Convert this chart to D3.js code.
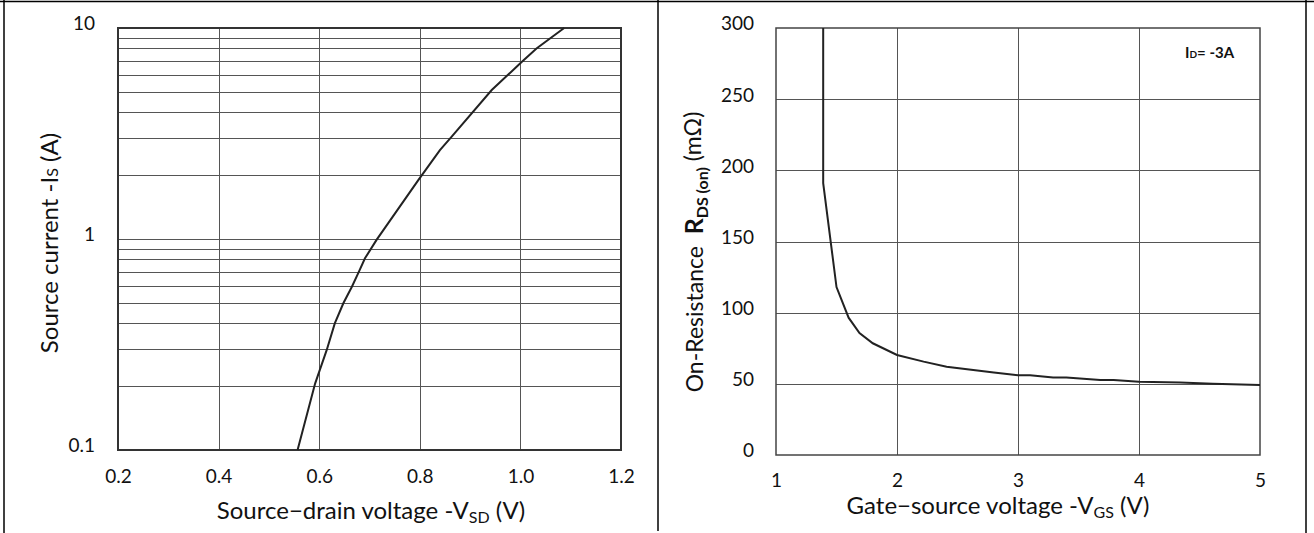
<!DOCTYPE html>
<html>
<head>
<meta charset="utf-8">
<script src="https://cdn.jsdelivr.net/npm/d3@7/dist/d3.min.js"></script>
<style>
  body { margin: 0; background: #fff; }
  svg { display: block; font-family: Lato, "Open Sans", sans-serif; }
  .tick text { font-family: Lato, "Open Sans", sans-serif; font-size: 19px; fill: #111; }
</style>
</head>
<body>
<svg width="1314" height="533"></svg>
<script>
// left chart: source current vs source-drain voltage
var vsd  = [0.557, 0.592, 0.615, 0.631, 0.648, 0.665, 0.679, 0.691, 0.714, 0.797, 0.840, 0.863, 0.943, 1.003, 1.032, 1.087];
var isrc = [0.1,   0.207, 0.298, 0.398, 0.496, 0.594, 0.70,  0.81,  0.99,  1.9,   2.64,  3.05,  5.08,  6.92,  8.0,   10];
var leftXTicks = [0.2, 0.4, 0.6, 0.8, 1.0, 1.2];
var leftYTicks = [0.1, 1, 10];

// right chart: on-resistance vs gate-source voltage
var vgs = [1.39, 1.39, 1.50, 1.60, 1.69, 1.80, 2.0,  2.22, 2.41, 2.80, 3.0, 3.10, 3.29, 3.40, 3.68, 3.79, 4.0,  4.34, 4.61, 5.0];
var rds = [300,  191,  118,  96.5, 85.6, 78.5, 70.3, 65.6, 62,   57.9, 56,  56,   54.4, 54.4, 52.7, 52.7, 51.5, 50.9, 50,   49.2];
var rightXTicks = [1, 2, 3, 4, 5];
var rightYTicks = [0, 50, 100, 150, 200, 250, 300];

var svg = d3.select("svg");

// table frame
svg.append("line").attr("x1", 0).attr("x2", 1314).attr("y1", 1.5).attr("y2", 1.5).attr("stroke", "#000").attr("stroke-width", 1.5);
svg.append("line").attr("x1", 4).attr("x2", 4).attr("y1", 0).attr("y2", 533).attr("stroke", "#000").attr("stroke-width", 1.5);
svg.append("line").attr("x1", 658).attr("x2", 658).attr("y1", 0).attr("y2", 531).attr("stroke", "#000").attr("stroke-width", 1.5);
svg.append("line").attr("x1", 1306).attr("x2", 1306).attr("y1", 0).attr("y2", 533).attr("stroke", "#000").attr("stroke-width", 1.5);

////////////////////// left chart
var x1 = d3.scaleLinear().domain([0.2, 1.2]).range([118, 621]);
var y1 = d3.scaleLog().domain([0.1, 10]).range([450, 28]);

// minor log gridlines 0.2..0.9, 1..9
var left = svg.append("g");
left.append("g").selectAll("line")
  .data(y1.ticks().filter(function(d) { return d > 0.1 && d < 10; }))
  .enter().append("line")
  .attr("x1", x1(0.2)).attr("x2", x1(1.2))
  .attr("y1", function(d) { return Math.round(y1(d)) + 0.5; }).attr("y2", function(d) { return Math.round(y1(d)) + 0.5; })
  .attr("stroke", "#555").attr("stroke-width", 1);

left.append("g").selectAll("line")
  .data(leftXTicks.slice(1, -1))
  .enter().append("line")
  .attr("x1", function(d) { return Math.round(x1(d)) + 0.5; }).attr("x2", function(d) { return Math.round(x1(d)) + 0.5; })
  .attr("y1", y1(10)).attr("y2", y1(0.1))
  .attr("stroke", "#555").attr("stroke-width", 1);

left.append("rect")
  .attr("x", x1(0.2)).attr("y", y1(10))
  .attr("width", x1(1.2) - x1(0.2)).attr("height", y1(0.1) - y1(10))
  .attr("fill", "none").attr("stroke", "#333").attr("stroke-width", 2);

left.append("path")
  .datum(d3.range(vsd.length))
  .attr("fill", "none").attr("stroke", "#222").attr("stroke-width", 2)
  .attr("d", d3.line().x(function(i) { return x1(vsd[i]); }).y(function(i) { return y1(isrc[i]); }));

left.append("g")
  .attr("transform", "translate(0,466)")
  .call(d3.axisBottom(x1).tickValues(leftXTicks).tickSize(0).tickFormat(d3.format(".1f")))
  .call(function(g) { g.select(".domain").remove(); });

left.append("g")
  .attr("transform", "translate(98,0)")
  .call(d3.axisLeft(y1).tickValues(leftYTicks).tickSize(0).tickFormat(function(d) { return d; }))
  .call(function(g) { g.select(".domain").remove(); g.selectAll("text").attr("dy", "0.1em"); });

var lx = left.append("text").attr("x", 371).attr("y", 519).attr("text-anchor", "middle").attr("font-size", 24).attr("fill", "#111");
lx.append("tspan").text("Source\u2212drain voltage -V");
lx.append("tspan").attr("font-size", 16).attr("dy", 4).text("SD");
lx.append("tspan").attr("dy", -4).text(" (V)");

var ly = left.append("text").attr("transform", "translate(58,243) rotate(-90)").attr("text-anchor", "middle").attr("font-size", 24).attr("fill", "#111");
ly.append("tspan").text("Source current -I");
ly.append("tspan").attr("font-size", 16).text("S");
ly.append("tspan").text(" (A)");

////////////////////// right chart
var x2 = d3.scaleLinear().domain([1, 5]).range([776, 1260]);
var y2 = d3.scaleLinear().domain([0, 300]).range([455, 28]);

var right = svg.append("g");
right.append("g").selectAll("line")
  .data(rightYTicks.slice(1, -1))
  .enter().append("line")
  .attr("x1", x2(1)).attr("x2", x2(5))
  .attr("y1", function(d) { return Math.round(y2(d)) + 0.5; }).attr("y2", function(d) { return Math.round(y2(d)) + 0.5; })
  .attr("stroke", "#555").attr("stroke-width", 1);

right.append("g").selectAll("line")
  .data(rightXTicks.slice(1, -1))
  .enter().append("line")
  .attr("x1", function(d) { return Math.round(x2(d)) + 0.5; }).attr("x2", function(d) { return Math.round(x2(d)) + 0.5; })
  .attr("y1", y2(300)).attr("y2", y2(0))
  .attr("stroke", "#555").attr("stroke-width", 1);

right.append("rect")
  .attr("x", x2(1)).attr("y", y2(300))
  .attr("width", x2(5) - x2(1)).attr("height", y2(0) - y2(300))
  .attr("fill", "none").attr("stroke", "#444").attr("stroke-width", 1.5);

right.append("path")
  .datum(d3.range(vgs.length))
  .attr("fill", "none").attr("stroke", "#222").attr("stroke-width", 2)
  .attr("d", d3.line().x(function(i) { return x2(vgs[i]); }).y(function(i) { return y2(rds[i]); }));

right.append("g")
  .attr("transform", "translate(0,470)")
  .call(d3.axisBottom(x2).tickValues(rightXTicks).tickSize(0).tickFormat(d3.format("d")))
  .call(function(g) { g.select(".domain").remove(); });

right.append("g")
  .attr("transform", "translate(757,0)")
  .call(d3.axisLeft(y2).tickValues(rightYTicks).tickSize(0).tickFormat(d3.format("d")))
  .call(function(g) { g.select(".domain").remove(); g.selectAll("text").attr("dy", "0.1em"); });

var rx = right.append("text").attr("x", 998).attr("y", 514).attr("text-anchor", "middle").attr("font-size", 24).attr("fill", "#111");
rx.append("tspan").text("Gate\u2212source voltage -V");
rx.append("tspan").attr("font-size", 16).attr("dy", 4).text("GS");
rx.append("tspan").attr("dy", -4).text(" (V)");

var ry = right.append("text").attr("transform", "translate(703,252) rotate(-90)").attr("text-anchor", "middle").attr("font-size", 23).attr("fill", "#111");
ry.append("tspan").text("On-Resistance\u00a0\u00a0");
ry.append("tspan").attr("font-weight", "bold").attr("font-size", 25).text("R");
ry.append("tspan").attr("font-weight", "bold").attr("font-size", 16).attr("dy", 5).text("DS (on)");
ry.append("tspan").attr("dy", -7).text(" (m\u03a9)");

var note = right.append("text").attr("x", 1185).attr("y", 58).attr("font-size", 15).attr("font-weight", "bold").attr("fill", "#111");
note.append("tspan").text("I");
note.append("tspan").attr("font-size", 10).text("D");
note.append("tspan").text("= -3A");
</script>
</body>
</html>
